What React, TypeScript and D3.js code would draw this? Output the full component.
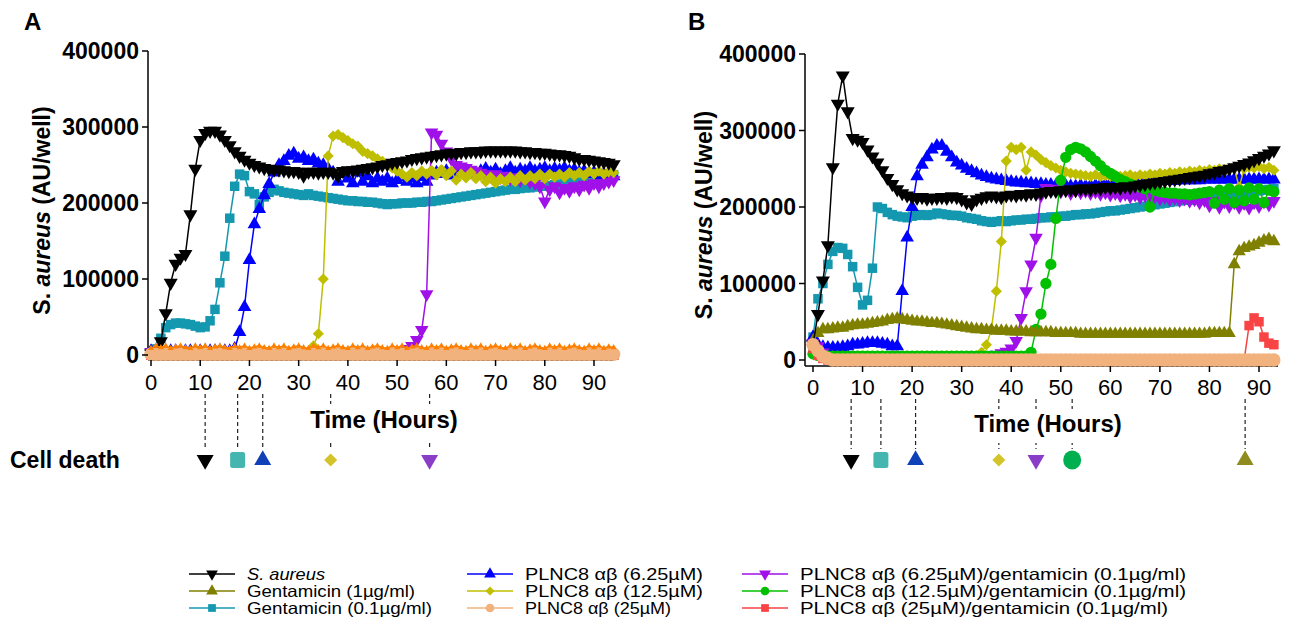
import React from 'react';
import * as d3 from 'd3';

// sampling times (hours)
const HOURS = [
  0, 1, 2, 3, 4, 5, 6, 7, 8, 9, 10, 11, 12, 13, 14, 15, 16, 17, 18, 19,
  20, 21, 22, 23, 24, 25, 26, 27, 28, 29, 30, 31, 32, 33, 34, 35, 36, 37, 38, 39,
  40, 41, 42, 43, 44, 45, 46, 47, 48, 49, 50, 51, 52, 53, 54, 55, 56, 57, 58, 59,
  60, 61, 62, 63, 64, 65, 66, 67, 68, 69, 70, 71, 72, 73, 74, 75, 76, 77, 78, 79,
  80, 81, 82, 83, 84, 85, 86, 87, 88, 89, 90, 91, 92, 93, 94,
];

// ---- panel A values (thousand AU/well), one per hour 0..94
const aureusA = [
  2, 5, 18, 55, 95, 120, 128, 133, 185, 245, 283, 292, 295, 295, 290, 283, 276, 268, 262, 257,
  253, 250, 248, 246, 245, 244, 244, 243, 242, 242, 241, 236, 241, 241, 240, 241, 241, 240, 236, 242,
  243, 243, 244, 245, 246, 247, 248, 250, 251, 253, 254, 255, 256, 258, 259, 260, 261, 262, 263, 264,
  265, 266, 265, 267, 267, 268, 268, 268, 269, 269, 269, 269, 269, 269, 269, 268, 268, 267, 267, 266,
  266, 265, 264, 264, 263, 262, 260, 258, 258, 257, 256, 255, 254, 253, 251,
];
const gent01A = [
  3, 8, 22, 36, 40, 42, 42, 41, 40, 38, 36, 37, 45, 60, 95, 130, 180, 222, 238, 236,
  215, 212, 198, 208, 214, 218, 216, 214, 213, 212, 211, 210, 212, 210, 209, 208, 207, 206, 205, 204,
  203, 203, 202, 202, 201, 201, 200, 199, 198, 199, 199, 200, 200, 200, 201, 201, 202, 202, 203, 204,
  205, 206, 207, 208, 209, 210, 211, 212, 213, 214, 215, 216, 217, 218, 218, 219, 220, 220, 221, 222,
  222, 223, 224, 225, 226, 227, 228, 229, 230, 231, 232, 233, 234, 235, 237,
];
const plnc625A = [
  5, 5, 5, 5, 5, 5, 5, 5, 5, 5, 5, 5, 5, 5, 5, 5, 5, 8, 30, 63,
  125, 172, 192, 210, 225, 240, 250, 255, 262, 265, 258, 260, 255, 257, 252, 250, 245, 240, 228, 238,
  232, 226, 240, 228, 235, 226, 232, 228, 232, 226, 230, 234, 228, 232, 226, 234, 228, 236, 240, 238,
  242, 236, 240, 238, 242, 240, 238, 242, 245, 240, 244, 238, 242, 246, 240, 244, 242, 246, 242, 244,
  246, 242, 245, 243, 246, 242, 244, 240, 242, 238, 240, 236, 238, 236, 235,
];
const plnc125A = [
  5, 5, 5, 5, 5, 5, 5, 5, 5, 5, 5, 5, 5, 5, 5, 5, 5, 5, 5, 5,
  5, 5, 5, 5, 5, 5, 5, 5, 5, 5, 5, 5, 5, 12, 28, 100, 262, 288, 290, 286,
  282, 278, 275, 268, 265, 262, 258, 255, 250, 246, 242, 238, 234, 240, 236, 242, 238, 243, 237, 244,
  236, 242, 230, 238, 233, 240, 232, 236, 228, 234, 226, 232, 228, 234, 228, 236, 230, 236, 232, 238,
  232, 238, 234, 238, 234, 240, 236, 240, 236, 242, 238, 242, 238, 241, 240,
];
const comb625A = [
  4, 4, 4, 4, 4, 4, 4, 4, 4, 4, 4, 4, 4, 4, 4, 4, 4, 4, 4, 4,
  4, 4, 4, 4, 4, 4, 4, 4, 4, 4, 4, 4, 4, 4, 4, 4, 4, 4, 4, 4,
  4, 4, 4, 4, 4, 4, 4, 4, 4, 4, 4, 5, 8, 12, 20, 33, 80, 293, 290, 278,
  268, 258, 250, 248, 246, 244, 242, 240, 238, 236, 238, 234, 236, 232, 234, 230, 232, 228, 226, 222,
  202, 218, 222, 214, 220, 216, 222, 218, 224, 220, 226, 222, 226, 228, 230,
];
const orangeA = [
  9, 12, 10, 12, 9, 11, 12, 10, 9, 12, 10, 12, 9, 11, 12, 10, 9, 12, 10, 12,
  9, 11, 12, 10, 9, 12, 10, 12, 9, 11, 12, 10, 9, 12, 10, 12, 9, 11, 12, 10,
  9, 12, 10, 12, 9, 11, 12, 10, 9, 12, 10, 12, 9, 11, 12, 10, 9, 12, 10, 12,
  9, 11, 12, 10, 9, 12, 10, 12, 9, 11, 12, 10, 9, 12, 10, 12, 9, 11, 12, 10,
  9, 12, 10, 12, 9, 11, 12, 10, 9, 12, 10, 12, 9, 11, 10,
];
const plnc25A = [
  1, 1, 1, 1, 1, 1, 1, 1, 1, 1, 1, 1, 1, 1, 1, 1, 1, 1, 1, 1,
  1, 1, 1, 1, 1, 1, 1, 1, 1, 1, 1, 1, 1, 1, 1, 1, 1, 1, 1, 1,
  1, 1, 1, 1, 1, 1, 1, 1, 1, 1, 1, 1, 1, 1, 1, 1, 1, 1, 1, 1,
  1, 1, 1, 1, 1, 1, 1, 1, 1, 1, 1, 1, 1, 1, 1, 1, 1, 1, 1, 1,
  1, 1, 1, 1, 1, 1, 1, 1, 1, 1, 1, 1, 1, 1, 1,
];
const comb25A = [
  0, 0, 0, 0, 0, 0, 0, 0, 0, 0, 0, 0, 0, 0, 0, 0, 0, 0, 0, 0,
  0, 0, 0, 0, 0, 0, 0, 0, 0, 0, 0, 0, 0, 0, 0, 0, 0, 0, 0, 0,
  0, 0, 0, 0, 0, 0, 0, 0, 0, 0, 0, 0, 0, 0, 0, 0, 0, 0, 0, 0,
  0, 0, 0, 0, 0, 0, 0, 0, 0, 0, 0, 0, 0, 0, 0, 0, 0, 0, 0, 0,
  0, 0, 0, 0, 0, 0, 0, 0, 0, 0, 0, 0, 0, 0, 0,
];

// ---- panel B values (thousand AU/well), one per hour 0..93
const aureusB = [
  20, 60, 104, 150, 252, 335, 372, 325, 290, 288, 285, 275, 266, 258, 248, 238, 230, 223, 218, 215,
  213, 212, 213, 211, 212, 212, 213, 212, 214, 213, 210, 206, 204, 210, 212, 214, 215, 214, 213, 215,
  216, 215, 217, 216, 218, 217, 219, 220, 221, 221, 222, 222, 223, 222, 224, 224, 223, 225, 224, 226,
  225, 226, 225, 227, 226, 228, 229, 230, 231, 232, 233, 234, 235, 236, 237, 238, 239, 240, 241, 242,
  244, 245, 247, 248, 250, 252, 254, 256, 258, 261, 264, 267, 270, 274,
];
const gent01B = [
  30, 80, 100, 125, 142, 147, 146, 138, 122, 95, 72, 78, 120, 200, 198, 193, 190, 188, 187, 186,
  188, 189, 190, 189, 190, 192, 191, 190, 189, 189, 188, 186, 185, 184, 182, 181, 180, 181, 182, 181,
  182, 183, 183, 184, 184, 185, 186, 186, 187, 187, 188, 188, 189, 190, 190, 191, 191, 192, 193, 194,
  195, 195, 196, 197, 198, 199, 200, 201, 202, 203, 204, 205, 206, 207, 208, 209, 209, 210, 211, 211,
  212, 213, 213, 214, 215, 216, 217, 218, 219, 220, 221, 222, 223, 224,
];
const gent1B = [
  25, 35, 40, 40, 41, 42, 42, 44, 45, 46, 46, 47, 48, 49, 50, 52, 53, 54, 53, 52,
  51, 50, 50, 49, 48, 48, 47, 46, 45, 44, 43, 42, 41, 40, 40, 39, 39, 38, 38, 38,
  37, 37, 37, 37, 36, 36, 36, 36, 36, 35, 35, 35, 35, 35, 34, 34, 34, 34, 34, 34,
  34, 34, 34, 34, 34, 34, 34, 34, 34, 34, 34, 34, 34, 34, 34, 34, 34, 34, 34, 34,
  35, 35, 35, 35, 35, 125, 142, 146, 148, 150, 153, 156, 158, 155,
];
const plnc625B = [
  30, 20, 17, 16, 16, 16, 17, 18, 20, 20, 21, 22, 22, 22, 21, 20, 18, 18, 90, 160,
  200, 240, 255, 265, 275, 280, 280, 272, 265, 258, 254, 250, 247, 244, 241, 239, 237, 236, 235, 234,
  233, 232, 232, 231, 231, 230, 230, 229, 229, 228, 228, 228, 227, 227, 228, 227, 228, 228, 229, 229,
  230, 230, 231, 231, 232, 232, 232, 233, 233, 233, 234, 234, 234, 234, 235, 235, 235, 235, 235, 236,
  236, 236, 236, 236, 236, 236, 236, 236, 236, 236, 236, 236, 236, 236,
];
const plnc125B = [
  8, 6, 5, 5, 5, 5, 5, 5, 5, 5, 5, 5, 5, 5, 5, 5, 5, 5, 5, 5,
  5, 5, 5, 5, 5, 5, 5, 5, 5, 5, 5, 5, 5, 5, 10, 20, 40, 90, 155, 260,
  278, 275, 278, 248, 272, 268, 262, 258, 254, 251, 248, 246, 244, 243, 242, 241, 240, 242, 240, 241,
  240, 242, 240, 241, 242, 240, 242, 241, 243, 242, 244, 243, 245, 244, 246, 245, 247, 246, 248, 247,
  249, 248, 250, 249, 250, 251, 226, 250, 252, 251, 253, 250, 252, 248,
];
const plnc25B = [
  20, 12, 5, 2, 0, 0, 0, 0, 0, 0, 0, 0, 0, 0, 0, 0, 0, 0, 0, 0,
  0, 0, 0, 0, 0, 0, 0, 0, 0, 0, 0, 0, 0, 0, 0, 0, 0, 0, 0, 0,
  0, 0, 0, 0, 0, 0, 0, 0, 0, 0, 0, 0, 0, 0, 0, 0, 0, 0, 0, 0,
  0, 0, 0, 0, 0, 0, 0, 0, 0, 0, 0, 0, 0, 0, 0, 0, 0, 0, 0, 0,
  0, 0, 0, 0, 0, 0, 0, 0, 0, 0, 0, 0, 0, 0,
];
const comb625B = [
  22, 18, 10, 5, 5, 5, 5, 5, 5, 5, 5, 5, 5, 5, 5, 5, 5, 5, 5, 5,
  5, 5, 5, 5, 5, 5, 5, 5, 5, 5, 5, 5, 5, 5, 5, 5, 6, 7, 9, 11,
  15, 25, 55, 90, 125, 160, 215, 225, 222, 224, 220, 223, 218, 222, 219, 221, 218, 220, 217, 219,
  216, 218, 215, 217, 214, 216, 213, 215, 212, 214, 211, 213, 210, 212, 209, 211, 208, 210, 206, 209,
  202, 208, 200, 207, 201, 206, 200, 205, 199, 206, 201, 207, 203, 208,
];
const comb125B = [
  8, 6, 5, 5, 5, 5, 5, 5, 5, 5, 5, 5, 5, 5, 5, 5, 5, 5, 5, 5,
  5, 5, 5, 5, 5, 5, 5, 5, 5, 5, 5, 5, 5, 5, 5, 5, 5, 5, 5, 5,
  5, 5, 5, 5, 10, 40, 60, 100, 125, 185, 235, 265, 275, 278, 276, 272, 266, 260, 254, 248,
  244, 240, 236, 233, 230, 228, 226, 224, 200, 222, 220, 219, 218, 218, 217, 217, 216, 217, 218, 219,
  220, 205, 222, 210, 224, 206, 222, 208, 225, 210, 224, 206, 222, 220,
];
const comb25B = [
  15, 6, 2, 0, 0, 0, 0, 0, 0, 0, 0, 0, 0, 0, 0, 0, 0, 0, 0, 0,
  0, 0, 0, 0, 0, 0, 0, 0, 0, 0, 0, 0, 0, 0, 0, 0, 0, 0, 0, 0,
  0, 0, 0, 0, 0, 0, 0, 0, 0, 0, 0, 0, 0, 0, 0, 0, 0, 0, 0, 0,
  0, 0, 0, 0, 0, 0, 0, 0, 0, 0, 0, 0, 0, 0, 0, 0, 0, 0, 0, 0,
  0, 0, 0, 0, 0, 0, 0, 0, 45, 55, 50, 30, 22, 20,
];

// cell death onset (hours)
const deathA = [11, 17.6, 22.7, 36.5, 56.6];
const deathB = [7.7, 13.7, 20.7, 37.5, 45, 52.3, 87.2];

const Y_TICKS = [0, 100000, 200000, 300000, 400000];

const C = {
  aureus: '#000000',
  gent1: '#808000',
  gent01: '#1398b0',
  p625: '#0000ff',
  p125: '#bfbf00',
  p25: '#f2b27e',
  c625: '#a010e8',
  c125: '#00c000',
  c25: '#f84444',
  orange: '#ff8000',
};

const FONT = 'Liberation Sans, Arial, sans-serif';

const symbolPath = (shape, size) => {
  const type = shape === 'circle' ? d3.symbolCircle
    : (shape === 'square' || shape === 'diamond') ? d3.symbolSquare
    : d3.symbolTriangle;
  return d3.symbol().type(type).size(size)();
};
const rot = (shape) => (shape === 'down' ? 180 : shape === 'diamond' ? 45 : 0);

const Series = ({ values, color, shape, size, x, y }) => {
  const pts = values.map((v, i) => [x(HOURS[i]), y(v * 1000)]);
  const d = symbolPath(shape, size);
  return (
    <g>
      <path d={d3.line()(pts)} fill="none" stroke={color} strokeWidth={1.5} />
      {pts.map(([px, py], i) => (
        <path key={i} d={d} fill={color} transform={`translate(${px},${py}) rotate(${rot(shape)})`} />
      ))}
    </g>
  );
};

const Panel = ({ letter, x, y, axisX, axisY, xEnd, series, letterX, titleX, tickLabelY, timeY, blank, deaths }) => {
  return (
    <g fontFamily={FONT}>
      <text x={letterX} y={30} fontSize={24} fontWeight="bold">{letter}</text>
      <text transform={`translate(${titleX},${(y(400000) + axisY) / 2 + 5}) rotate(-90)`} textAnchor="middle"
        fontSize={23} fontWeight="bold">
        S. <tspan fontStyle="italic">aureus</tspan> (AU/well)
      </text>
      <line x1={axisX} x2={axisX} y1={y(400000)} y2={axisY} stroke="#000" strokeWidth={1.5} />
      <line x1={axisX} x2={xEnd} y1={axisY} y2={axisY} stroke="#000" strokeWidth={1.5} />
      {series.map((s, i) => <Series key={i} {...s} x={x} y={y} />)}
      {Y_TICKS.map(t => (
        <g key={t}>
          <line x1={axisX - 6} x2={axisX} y1={y(t)} y2={y(t)} stroke="#000" strokeWidth={1.5} />
          <text x={axisX - 9} y={y(t)} dy="0.36em" textAnchor="end" fontSize={23} fontWeight="bold">{t}</text>
        </g>
      ))}
      {x.ticks(10).map(t => (
        <g key={t}>
          <line x1={x(t)} x2={x(t)} y1={axisY} y2={axisY + 6} stroke="#000" strokeWidth={1.5} />
          <text x={x(t)} y={tickLabelY} textAnchor="middle" fontSize={22}>{t}</text>
        </g>
      ))}
      {deaths.map((dd, i) => (
        <g key={i}>
          <line x1={x(dd.t)} x2={x(dd.t)} y1={tickLabelY + 4} y2={449} stroke="#222" strokeWidth={1.2}
            strokeDasharray="4 3" />
          {dd.shape === 'square'
            ? <rect x={x(dd.t) - 7.5} y={452} width={15} height={16} rx={2.5} fill={dd.color} />
            : dd.shape === 'circle'
              ? <ellipse cx={x(dd.t)} cy={460} rx={9} ry={9.5} fill={dd.color} />
              : <path d={symbolPath(dd.shape, dd.shape === 'diamond' ? 85 : 125)} fill={dd.color}
                  transform={`translate(${x(dd.t)},${460}) rotate(${rot(dd.shape)})`} />}
        </g>
      ))}
      <rect x={blank[0]} y={blank[1]} width={blank[2]} height={blank[3]} fill="#fff" />
      <text x={(blank[0] + blank[2] / 2)} y={timeY} textAnchor="middle" fontSize={24} fontWeight="bold">Time (Hours)</text>
    </g>
  );
};

const LEGEND = [
  { label: 'S. aureus', italic: true, color: C.aureus, shape: 'down', col: 0, row: 0 },
  { label: 'Gentamicin (1\u00b5g/ml)', color: C.gent1, shape: 'up', col: 0, row: 1 },
  { label: 'Gentamicin (0.1\u00b5g/ml)', color: C.gent01, shape: 'square', col: 0, row: 2 },
  { label: 'PLNC8 \u03b1\u03b2 (6.25\u00b5M)', color: C.p625, shape: 'up', col: 1, row: 0 },
  { label: 'PLNC8 \u03b1\u03b2 (12.5\u00b5M)', color: C.p125, shape: 'diamond', col: 1, row: 1 },
  { label: 'PLNC8 \u03b1\u03b2 (25\u00b5M)', color: C.p25, shape: 'circle', col: 1, row: 2 },
  { label: 'PLNC8 \u03b1\u03b2 (6.25\u00b5M)/gentamicin (0.1\u00b5g/ml)', color: C.c625, shape: 'down', col: 2, row: 0 },
  { label: 'PLNC8 \u03b1\u03b2 (12.5\u00b5M)/gentamicin (0.1\u00b5g/ml)', color: C.c125, shape: 'circle', col: 2, row: 1 },
  { label: 'PLNC8 \u03b1\u03b2 (25\u00b5M)/gentamicin (0.1\u00b5g/ml)', color: C.c25, shape: 'square', col: 2, row: 2 },
];
const LEG_COL_X = [189, 467, 742];
const LEG_ROW_Y = [574, 591, 608];
const LEG_TEXT_W = [78, 168, 185, 178, 178, 146, 386, 386, 368];

export default function App() {
  const xA = d3.scaleLinear().domain([0, 90]).range([151, 594]);
  const yA = d3.scaleLinear().domain([0, 400000]).range([355, 51]);
  const xB = d3.scaleLinear().domain([0, 90]).range([813, 1259]);
  const yB = d3.scaleLinear().domain([0, 400000]).range([360, 54]);

  const seriesA = [
    { values: gent01A, color: C.gent01, shape: 'square', size: 90 },
    { values: plnc625A, color: C.p625, shape: 'up', size: 80 },
    { values: comb625A, color: C.c625, shape: 'down', size: 80 },
    { values: plnc125A, color: C.p125, shape: 'diamond', size: 62 },
    { values: aureusA, color: C.aureus, shape: 'down', size: 85 },
    { values: comb25A, color: C.c25, shape: 'square', size: 100 },
    { values: plnc25A, color: C.p25, shape: 'circle', size: 140 },
    { values: orangeA, color: C.orange, shape: 'up', size: 16 },
  ];
  const seriesB = [
    { values: gent01B, color: C.gent01, shape: 'square', size: 90 },
    { values: plnc625B, color: C.p625, shape: 'up', size: 80 },
    { values: comb625B, color: C.c625, shape: 'down', size: 80 },
    { values: plnc125B, color: C.p125, shape: 'diamond', size: 62 },
    { values: comb125B, color: C.c125, shape: 'circle', size: 100 },
    { values: gent1B, color: C.gent1, shape: 'up', size: 75 },
    { values: aureusB, color: C.aureus, shape: 'down', size: 85 },
    { values: comb25B, color: C.c25, shape: 'square', size: 90 },
    { values: plnc25B, color: C.p25, shape: 'circle', size: 140 },
  ];

  const deathColors = {
    aureus: '#000000', gent01: '#45b5b0', p625: '#1040b8', p125: '#d2c42a',
    c625: '#8a3ec8', c125: '#00b050', gent1: '#8e8c1e',
  };
  const dA = [
    { t: deathA[0], color: deathColors.aureus, shape: 'down' },
    { t: deathA[1], color: deathColors.gent01, shape: 'square' },
    { t: deathA[2], color: deathColors.p625, shape: 'up' },
    { t: deathA[3], color: deathColors.p125, shape: 'diamond' },
    { t: deathA[4], color: deathColors.c625, shape: 'down' },
  ];
  const dB = [
    { t: deathB[0], color: deathColors.aureus, shape: 'down' },
    { t: deathB[1], color: deathColors.gent01, shape: 'square' },
    { t: deathB[2], color: deathColors.p625, shape: 'up' },
    { t: deathB[3], color: deathColors.p125, shape: 'diamond' },
    { t: deathB[4], color: deathColors.c625, shape: 'down' },
    { t: deathB[5], color: deathColors.c125, shape: 'circle' },
    { t: deathB[6], color: deathColors.gent1, shape: 'up' },
  ];

  return (
    <svg width={1292} height={631} style={{ position: 'absolute', left: 0, top: 0, background: '#fff' }}>
      <rect width={1292} height={631} fill="#fff" />
      <Panel letter="A" x={xA} y={yA} axisX={148} axisY={360} xEnd={613} series={seriesA}
        letterX={24} titleX={50} tickLabelY={390} timeY={428} blank={[300, 404, 168, 36]} deaths={dA} />
      <Panel letter="B" x={xB} y={yB} axisX={805} axisY={366} xEnd={1278} series={seriesB}
        letterX={688} titleX={712} tickLabelY={395} timeY={432} blank={[964, 409, 168, 34]} deaths={dB} />
      <text x={10} y={468} fontFamily={FONT} fontSize={23} fontWeight="bold">Cell death</text>
      <g fontFamily={FONT} fontSize={16.5}>
        {LEGEND.map((l, i) => {
          const x0 = LEG_COL_X[l.col];
          const yy = LEG_ROW_Y[l.row];
          return (
            <g key={i}>
              <line x1={x0} x2={x0 + 46} y1={yy} y2={yy} stroke={l.color} strokeWidth={1.5} />
              <path d={symbolPath(l.shape, l.shape === 'diamond' ? 40 : 60)} fill={l.color}
                transform={`translate(${x0 + 23},${yy}) rotate(${rot(l.shape)})`} />
              <text x={x0 + 58} y={yy + 6} textLength={LEG_TEXT_W[i]} lengthAdjust="spacingAndGlyphs"
                fontStyle={l.italic ? 'italic' : 'normal'}>
                {l.label}
              </text>
            </g>
          );
        })}
      </g>
    </svg>
  );
}
